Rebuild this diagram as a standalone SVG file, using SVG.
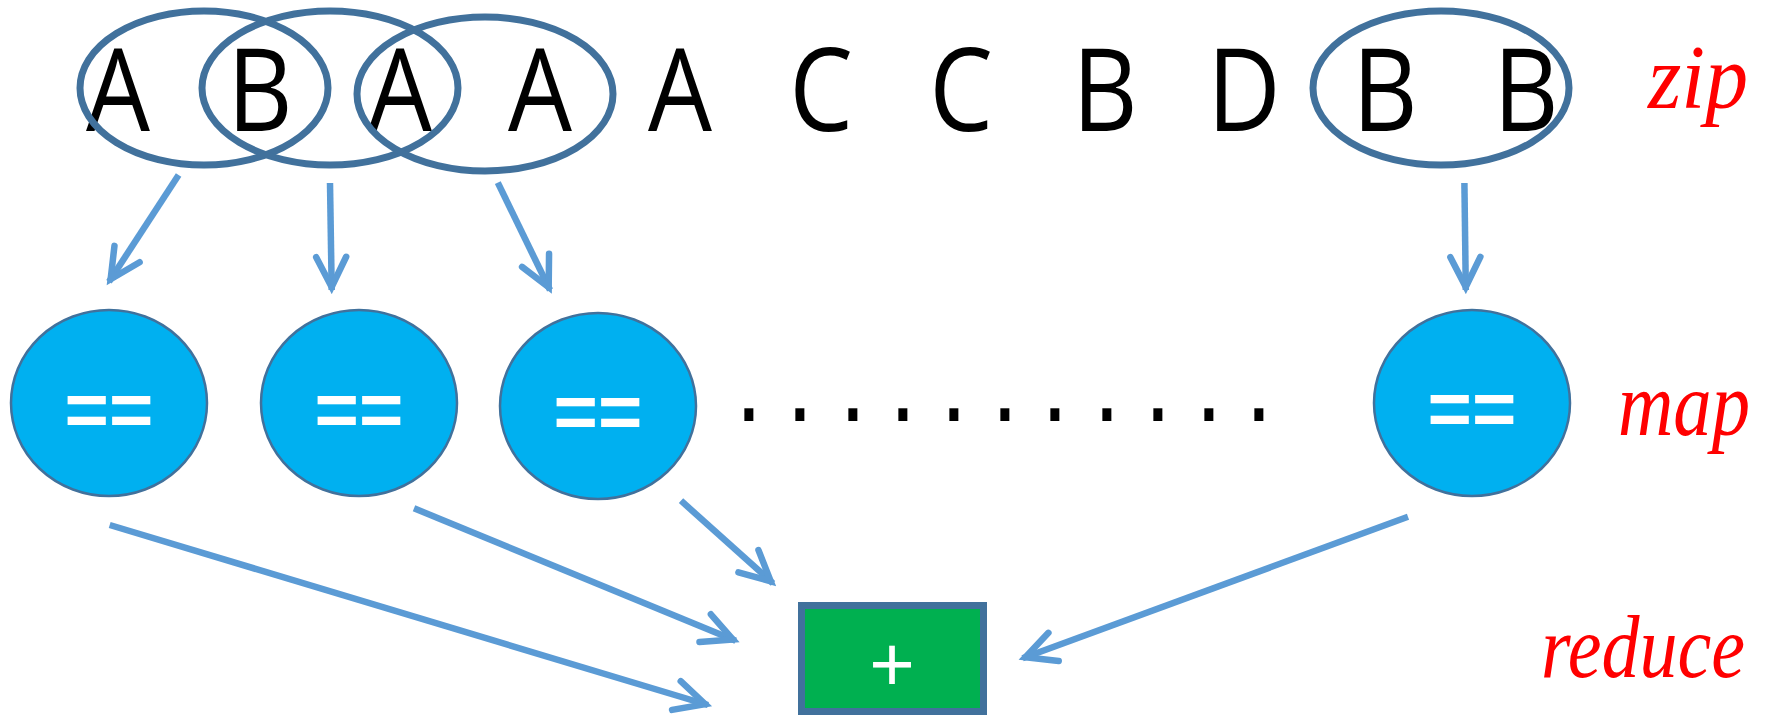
<svg xmlns="http://www.w3.org/2000/svg" width="1775" height="718" viewBox="0 0 1775 718">
<style>
  .letter { font-family: "Open Sans", "Liberation Sans", sans-serif; font-size: 115px; fill: #000; text-anchor: middle; }
  .pair { fill: none; stroke: #41719C; stroke-width: 7; }
  .conn { fill: none; stroke: #5B9BD5; stroke-width: 6.5; stroke-linecap: butt; }
  .mapnode { fill: #00B0F0; stroke: #41719C; stroke-width: 2.5; }
  .eq { font-family: "Liberation Sans", Arial, sans-serif; font-weight: bold; font-size: 76px; fill: #fff; text-anchor: middle; }
  .lbl { font-family: "Liberation Serif", "DejaVu Serif", serif; font-style: italic; fill: #FF0000; }
  .dots { font-family: "Liberation Sans", Arial, sans-serif; font-weight: bold; font-size: 64px; fill: #000; text-anchor: middle; }
</style>
<defs>
  <marker id="arr" markerUnits="userSpaceOnUse" viewBox="-45 -25 55 50" markerWidth="55" markerHeight="50" refX="0" refY="0" orient="auto" overflow="visible">
    <path d="M-33,-15 L-3,0 L-33,15" fill="none" stroke="#5B9BD5" stroke-width="6.5" stroke-linecap="round" stroke-linejoin="miter"/>
  </marker>
</defs>
<rect width="1775" height="718" fill="#fff"/>

<g id="sequence">
  <text class="letter" transform="translate(118,131) scale(0.88,1)">A</text>
  <text class="letter" transform="translate(260,131) scale(0.88,1)">B</text>
  <text class="letter" transform="translate(400,131) scale(0.88,1)">A</text>
  <text class="letter" transform="translate(540,131) scale(0.88,1)">A</text>
  <text class="letter" transform="translate(680,131) scale(0.88,1)">A</text>
  <text class="letter" transform="translate(821,131) scale(0.88,1)">C</text>
  <text class="letter" transform="translate(961,131) scale(0.88,1)">C</text>
  <text class="letter" transform="translate(1105,131) scale(0.88,1)">B</text>
  <text class="letter" transform="translate(1244,131) scale(0.88,1)">D</text>
  <text class="letter" transform="translate(1385,131) scale(0.88,1)">B</text>
  <text class="letter" transform="translate(1526,131) scale(0.88,1)">B</text>
</g>

<g id="pair1"><ellipse class="pair" cx="204" cy="88" rx="124" ry="77"/></g>
<g id="pair2"><ellipse class="pair" cx="330" cy="88" rx="128" ry="77"/></g>
<g id="pair3"><ellipse class="pair" cx="485" cy="94" rx="128" ry="77"/></g>
<g id="pairN"><ellipse class="pair" cx="1441" cy="88" rx="128" ry="77"/></g>

<g id="map1">
  <ellipse class="mapnode" cx="109" cy="403" rx="98" ry="93"/>
  <text class="eq" x="109" y="436">==</text>
</g>
<g id="map2">
  <ellipse class="mapnode" cx="359" cy="403" rx="98" ry="93"/>
  <text class="eq" x="359" y="436">==</text>
</g>
<g id="map3">
  <ellipse class="mapnode" cx="598" cy="406" rx="98" ry="93"/>
  <text class="eq" x="598" y="438">==</text>
</g>
<g id="mapN">
  <ellipse class="mapnode" cx="1472" cy="403" rx="98" ry="93"/>
  <text class="eq" x="1472" y="435">==</text>
</g>

<g id="ellipsis">
  <text class="dots" transform="translate(0,421) scale(1,1.33)" x="749 800 853 903 954 1005 1055 1107 1158 1209 1259" y="0">...........</text>
</g>

<g id="reduce">
  <rect x="801.5" y="605.5" width="182" height="106" fill="#00B050" stroke="#41719C" stroke-width="7"/>
  <text x="892" y="691" font-family="Liberation Sans, Arial, sans-serif" font-size="78" fill="#fff" text-anchor="middle">+</text>
</g>

<g id="labels">
  <text class="lbl" x="1698" y="108" font-size="90" text-anchor="middle" textLength="100" lengthAdjust="spacingAndGlyphs">zip</text>
  <text class="lbl" x="1684" y="435" font-size="90" text-anchor="middle" textLength="132" lengthAdjust="spacingAndGlyphs">map</text>
  <text class="lbl" x="1643" y="677" font-size="88" text-anchor="middle" textLength="204" lengthAdjust="spacingAndGlyphs">reduce</text>
</g>

<g id="connectors">
  <line class="conn" x1="178.6" y1="175" x2="109" y2="281.7" marker-end="url(#arr)"/>
  <line class="conn" x1="330" y1="183" x2="331.7" y2="290" marker-end="url(#arr)"/>
  <line class="conn" x1="497.8" y1="182.7" x2="550" y2="290" marker-end="url(#arr)"/>
  <line class="conn" x1="1464.4" y1="183" x2="1465.8" y2="290" marker-end="url(#arr)"/>
  <line class="conn" x1="109.7" y1="525" x2="708" y2="705" marker-end="url(#arr)"/>
  <line class="conn" x1="414" y1="508.3" x2="735.7" y2="640.7" marker-end="url(#arr)"/>
  <line class="conn" x1="681" y1="500.7" x2="773" y2="583.3" marker-end="url(#arr)"/>
  <line class="conn" x1="1408" y1="516.7" x2="1022.6" y2="658.3" marker-end="url(#arr)"/>
</g>
</svg>
